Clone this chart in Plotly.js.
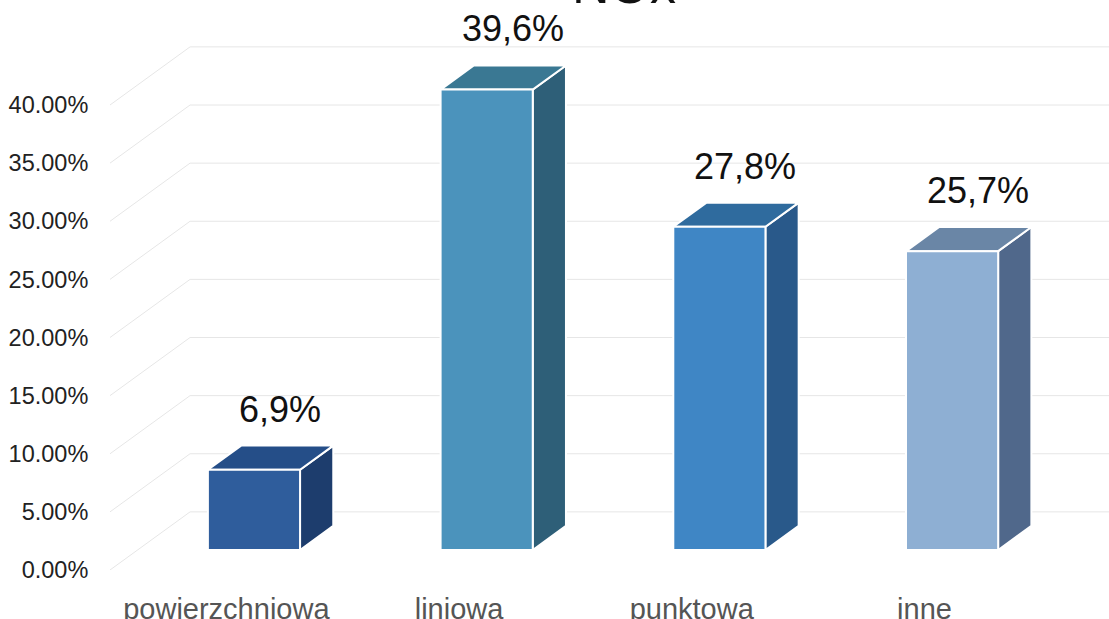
<!DOCTYPE html>
<html>
<head>
<meta charset="utf-8">
<script src="https://cdn.plot.ly/plotly-3.0.1.min.js"></script>
<style>
  html, body { margin: 0; padding: 0; background: #ffffff; }
  #chart { width: 1109px; height: 619px; }
</style>
</head>
<body>
<div id="chart"></div>
<script>
// ---- data ----
const categories = ['powierzchniowa', 'liniowa', 'punktowa', 'inne'];
const values = [6.9, 39.6, 27.8, 25.7];
const valueLabels = ['6,9%', '39,6%', '27,8%', '25,7%'];
const yTickValues = [0, 5, 10, 15, 20, 25, 30, 35, 40];
const yTickLabels = ['0.00%', '5.00%', '10.00%', '15.00%', '20.00%', '25.00%', '30.00%', '35.00%', '40.00%'];
const titleText = 'NOx';

// ---- styling (3D projection parameters, in axis units) ----
const frontColors = ['#2f5d9c', '#4b93bc', '#3f86c5', '#8eafd3'];
const topColors   = ['#254e88', '#3a7893', '#2f6b9e', '#6a86a6'];
const sideColors  = ['#1d3d6d', '#2e5f78', '#29598a', '#50688b'];
const wallDX = 0.344, wallDY = 5;       // back wall offset
const frontFrac = 0.345, backFrac = 0.76; // bar depth position
const halfW = 0.198;
const xMin = -0.5, xMax = 3.793;

const traces = [];

// perspective gridlines (side wall diagonal + back wall horizontal)
yTickValues.forEach(v => {
  traces.push({
    x: [xMin, xMin + wallDX, xMax],
    y: [v, v + wallDY, v + wallDY],
    mode: 'lines', type: 'scatter',
    line: { color: '#e6e6e6', width: 1 },
    hoverinfo: 'skip', showlegend: false
  });
});

const fdx = wallDX * frontFrac, fdy = wallDY * frontFrac;
const bdx = wallDX * backFrac,  bdy = wallDY * backFrac;

values.forEach((v, i) => {
  const xl = i - halfW, xr = i + halfW;
  // side face
  traces.push({
    x: [xr + fdx, xr + fdx, xr + bdx, xr + bdx, xr + fdx],
    y: [fdy, v + fdy, v + bdy, bdy, fdy],
    mode: 'lines', type: 'scatter', fill: 'toself',
    fillcolor: sideColors[i], line: { color: '#ffffff', width: 2 },
    hoverinfo: 'skip', showlegend: false
  });
  // top face
  traces.push({
    x: [xl + fdx, xr + fdx, xr + bdx, xl + bdx, xl + fdx],
    y: [v + fdy, v + fdy, v + bdy, v + bdy, v + fdy],
    mode: 'lines', type: 'scatter', fill: 'toself',
    fillcolor: topColors[i], line: { color: '#ffffff', width: 2 },
    hoverinfo: 'skip', showlegend: false
  });
  // front face
  traces.push({
    x: [xl + fdx, xr + fdx, xr + fdx, xl + fdx, xl + fdx],
    y: [fdy, fdy, v + fdy, v + fdy, fdy],
    mode: 'lines', type: 'scatter', fill: 'toself',
    fillcolor: frontColors[i], line: { color: '#ffffff', width: 2 },
    name: categories[i], text: valueLabels[i], hoverinfo: 'text+name', showlegend: false
  });
});

const annotations = values.map((v, i) => ({
  x: i + 0.23, y: v + bdy, xref: 'x', yref: 'y',
  text: valueLabels[i], showarrow: false,
  xanchor: 'center', yanchor: 'bottom', yshift: 14,
  font: { family: 'Liberation Sans, Arial, sans-serif', size: 36, color: '#111111' }
}));

// chart title, placed so that (as in the reference) only its lower part is on the page
annotations.push({
  x: 1.71, y: 1, xref: 'x', yref: 'paper',
  text: titleText, showarrow: false,
  xanchor: 'center', yanchor: 'bottom', yshift: 24,
  font: { family: 'Liberation Sans, Arial, sans-serif', size: 52, color: '#111111' }
});

const layout = {
  width: 1109, height: 619,
  margin: { l: 110, r: 0, t: 40, b: 49 },
  paper_bgcolor: '#ffffff', plot_bgcolor: '#ffffff',
  showlegend: false,
  xaxis: {
    range: [xMin, xMax],
    tickvals: [0, 1, 2, 3], ticktext: categories,
    showgrid: false, zeroline: false, showline: false,
    ticks: 'outside', ticklen: 13, tickcolor: 'rgba(0,0,0,0)',
    tickfont: { family: 'Liberation Sans, Arial, sans-serif', size: 29, color: '#555555' },
    fixedrange: true
  },
  yaxis: {
    range: [0, 530 / 11.625],
    tickvals: yTickValues, ticktext: yTickLabels,
    showgrid: false, zeroline: false, showline: false,
    ticks: 'outside', ticklen: 16, tickcolor: 'rgba(0,0,0,0)',
    tickfont: { family: 'Liberation Sans, Arial, sans-serif', size: 23.5, color: '#222222' },
    fixedrange: true
  },
  annotations: annotations
};

Plotly.newPlot('chart', traces, layout, { displayModeBar: false, staticPlot: true });
</script>
</body>
</html>
